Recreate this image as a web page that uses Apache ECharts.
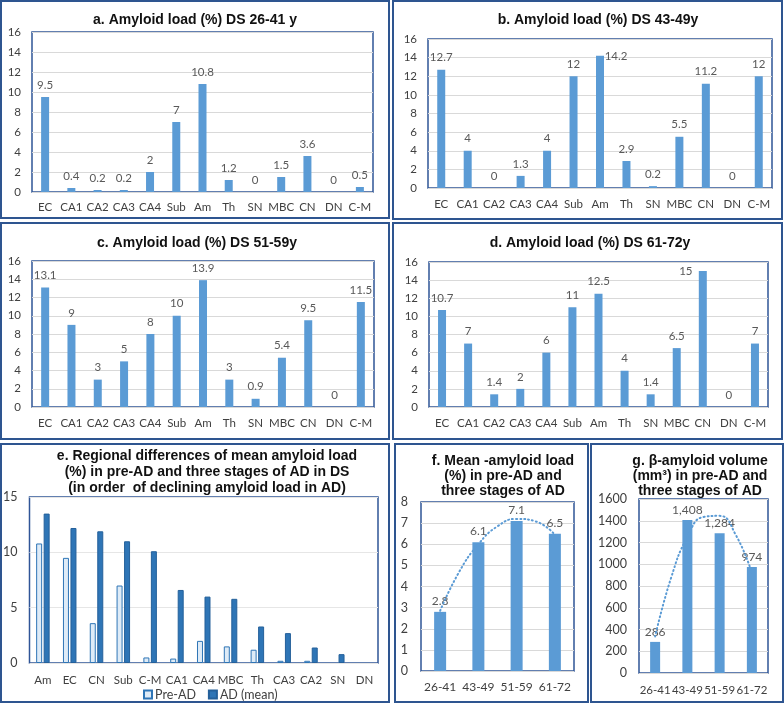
<!DOCTYPE html>
<html>
<head>
<meta charset="utf-8">
<script src="https://cdn.jsdelivr.net/npm/echarts@6/dist/echarts.min.js"></script>
<style>html,body{margin:0;padding:0;background:#fff}#c{width:784px;height:703px}</style>
</head>
<body>
<div id="c"></div>
<script>
// ---------- data ----------
const regions = ['EC','CA1','CA2','CA3','CA4','Sub','Am','Th','SN','MBC','CN','DN','C-M'];
const load26_41 = [9.5, 0.4, 0.2, 0.2, 2, 7, 10.8, 1.2, 0, 1.5, 3.6, 0, 0.5];
const load43_49 = [12.7, 4, 0, 1.3, 4, 12, 14.2, 2.9, 0.2, 5.5, 11.2, 0, 12];
const load51_59 = [13.1, 9, 3, 5, 8, 10, 13.9, 3, 0.9, 5.4, 9.5, 0, 11.5];
const load61_72 = [10.7, 7, 1.4, 2, 6, 11, 12.5, 4, 1.4, 6.5, 15, 0, 7];

const regionsByAD = ['Am','EC','CN','Sub','C-M','CA1','CA4','MBC','Th','CA3','CA2','SN','DN'];
const preAD  = [10.8, 9.5, 3.6, 7, 0.5, 0.4, 2, 1.5, 1.2, 0.2, 0.2, 0, 0];
const adMean = [13.5, 12.2, 11.9, 11, 10.1, 6.6, 6, 5.8, 3.3, 2.7, 1.4, 0.8, 0];

const ageGroups = ['26-41','43-49','51-59','61-72'];
const meanLoad = [2.8, 6.1, 7.1, 6.5];
const volume = [286, 1408, 1284, 974];
// dotted trend lines (x = category position 1..4)
const trendX = [1, 1.5, 2, 2.5, 3, 3.5, 4];
const meanLoadTrend = [2.85, 4.7, 6.0, 6.85, 7.2, 7.08, 6.45];
const volumeTrend = [335, 880, 1250, 1435, 1445, 1270, 920];

// ---------- styling ----------
const BAR = '#5b9bd5';
const BOX = '#2f5597';
const PANEL = '#2e5590';
const AXC = '#404040';
const LBL = '#595959';
const TFONT = 'Liberation Sans, Arial, sans-serif';
const LFONT = 'Lato, sans-serif';

const chart = echarts.init(document.getElementById('c'), null, {renderer: 'canvas'});

const grids = [], xAxes = [], yAxes = [], series = [], titles = [];

function addTitle(text, cx, top, lh) {
  titles.push({
    text: text, left: cx, top: top, textAlign: 'center',
    textStyle: {fontFamily: TFONT, fontWeight: 'bold', fontSize: 14, color: '#111', lineHeight: lh || 16}
  });
}

function addGrid(left, top, width, height) {
  grids.push({left: left, top: top, width: width, height: height, show: true,
    borderColor: BOX, borderWidth: 1.5, backgroundColor: '#fff', containLabel: false});
  return grids.length - 1;
}

function addCatAxis(gi, cats, margin, fs) {
  xAxes.push({type: 'category', gridIndex: gi, data: cats, boundaryGap: true,
    axisLine: {show: false}, axisTick: {show: false}, splitLine: {show: false},
    axisLabel: {interval: 0, margin: margin, color: AXC, fontSize: fs || 11.5, fontFamily: LFONT}});
  return xAxes.length - 1;
}
function addValXAxis(gi) {
  xAxes.push({type: 'value', gridIndex: gi, min: 0.5, max: 4.5, show: false});
  return xAxes.length - 1;
}
function addYAxis(gi, max, interval, margin, fs, gridColor) {
  yAxes.push({type: 'value', gridIndex: gi, min: 0, max: max, interval: interval,
    axisLine: {show: false}, axisTick: {show: false},
    axisLabel: {margin: margin, color: AXC, fontSize: fs, fontFamily: LFONT,
      formatter: function (v) { return String(v); }},
    splitLine: {show: true, lineStyle: {color: gridColor || '#d9d9d9', width: 1}}});
  return yAxes.length - 1;
}

function regionPanel(values, g, xm, labelTweaks) {
  const gi = addGrid(g[0], g[1], g[2], g[3]);
  const xi = addCatAxis(gi, regions, xm);
  const yi = addYAxis(gi, 16, 2, 11, 11.5);
  const data = values.map(function (v, i) {
    const item = {value: v};
    if (labelTweaks && labelTweaks[i]) item.label = labelTweaks[i];
    return item;
  });
  series.push({type: 'bar', xAxisIndex: xi, yAxisIndex: yi, data: data, barWidth: 8,
    itemStyle: {color: BAR},
    label: {show: true, position: 'top', distance: 6, color: LBL, fontSize: 11.5, fontFamily: LFONT}});
}

// a
addTitle('a. Amyloid load (%) DS 26-41 y', 190, 7);
regionPanel(load26_41, [32, 32, 341, 160], 9);
// b
addTitle('b. Amyloid load (%) DS 43-49y', 593, 7);
regionPanel(load43_49, [428, 39, 344, 149], 10, {6: {offset: [16, 13]}});
// c
addTitle('c. Amyloid load (%) DS 51-59y', 192, 230);
regionPanel(load51_59, [32, 261, 342, 146], 10);
// d
addTitle('d. Amyloid load (%) DS 61-72y', 585, 230);
regionPanel(load61_72, [429, 262, 339, 145], 10, {10: {offset: [-17, 12]}});

// e
addTitle('e. Regional differences of mean amyloid load\n(%) in pre-AD and three stages of AD in DS\n(in order  of declining amyloid load in AD)', 202, 443, 16);
(function () {
  const gi = addGrid(27, 497, 351, 166);
  const xi = addCatAxis(gi, regionsByAD, 11);
  const yi = addYAxis(gi, 15, 5, 12, 12.5, '#e6e6e6');
  function items(arr) {
    return arr.map(function (v) { return v === 0 ? {value: v, itemStyle: {borderWidth: 0}} : v; });
  }
  series.push({type: 'bar', name: 'Pre-AD', xAxisIndex: xi, yAxisIndex: yi, data: items(preAD),
    barWidth: 6, barGap: '25%',
    itemStyle: {color: '#deebf7', borderColor: '#2e75b6', borderWidth: 1}});
  series.push({type: 'bar', name: 'AD (mean)', xAxisIndex: xi, yAxisIndex: yi, data: items(adMean),
    barWidth: 6, barGap: '25%',
    itemStyle: {color: '#2e75b6', borderColor: '#24609a', borderWidth: 1}});
})();

// f
addTitle('f. Mean -amyloid load\n(%) in pre-AD and\nthree stages of AD', 498, 449, 15);
(function () {
  const gi = addGrid(421, 502, 153, 169);
  const xi = addCatAxis(gi, ageGroups, 10, 12);
  const xv = addValXAxis(gi);
  const yi = addYAxis(gi, 8, 1, 13, 12.5);
  series.push({type: 'bar', xAxisIndex: xi, yAxisIndex: yi, data: meanLoad, barWidth: 12,
    itemStyle: {color: BAR},
    label: {show: true, position: 'top', distance: 5, color: LBL, fontSize: 12, fontFamily: LFONT}});
  series.push({type: 'line', xAxisIndex: xv, yAxisIndex: yi, smooth: true, symbol: 'none',
    data: trendX.map(function (x, i) { return [x, meanLoadTrend[i]]; }),
    lineStyle: {color: BAR, width: 2, type: [1, 3], cap: 'round'}, z: 5});
})();

// g
addTitle('g. β-amyloid volume\n(mm³) in pre-AD and\nthree stages of AD', 695, 449, 15);
(function () {
  const gi = addGrid(639, 499, 129, 174);
  const xi = addCatAxis(gi, ageGroups, 11, 11.5);
  const xv = addValXAxis(gi);
  const yi = addYAxis(gi, 1600, 200, 12, 12.5);
  series.push({type: 'bar', xAxisIndex: xi, yAxisIndex: yi, data: volume, barWidth: 10,
    itemStyle: {color: BAR},
    label: {show: true, position: 'top', distance: 4, color: LBL, fontSize: 12, fontFamily: LFONT,
      formatter: function (p) { return p.value.toLocaleString('en-US'); }}});
  series.push({type: 'line', xAxisIndex: xv, yAxisIndex: yi, smooth: true, symbol: 'none',
    data: trendX.map(function (x, i) { return [x, volumeTrend[i]]; }),
    lineStyle: {color: BAR, width: 2, type: [1, 3], cap: 'round'}, z: 5});
})();

function panelRect(x1, y1, x2, y2) {
  return {type: 'rect', shape: {x: x1, y: y1, width: x2 - x1, height: y2 - y1},
    style: {fill: 'none', stroke: PANEL, lineWidth: 2}, z: 100, silent: true};
}

chart.setOption({
  animation: false,
  backgroundColor: '#fff',
  title: titles,
  grid: grids,
  xAxis: xAxes,
  yAxis: yAxes,
  series: series,
  legend: {
    data: ['Pre-AD', 'AD (mean)'], left: 138, top: 683, itemWidth: 8, itemHeight: 8, itemGap: 12,
    icon: 'rect', textStyle: {color: AXC, fontSize: 12.5, fontFamily: LFONT, padding: [0, 0, 0, -2]}
  },
  graphic: [
    panelRect(1, 1, 389, 218),
    panelRect(393, 1, 782, 219),
    panelRect(1, 223, 389, 439),
    panelRect(393, 223, 782, 439),
    panelRect(1, 444, 389, 702),
    panelRect(395, 444, 588, 702),
    panelRect(591, 444, 783, 702)
  ]
});
</script>
</body>
</html>
